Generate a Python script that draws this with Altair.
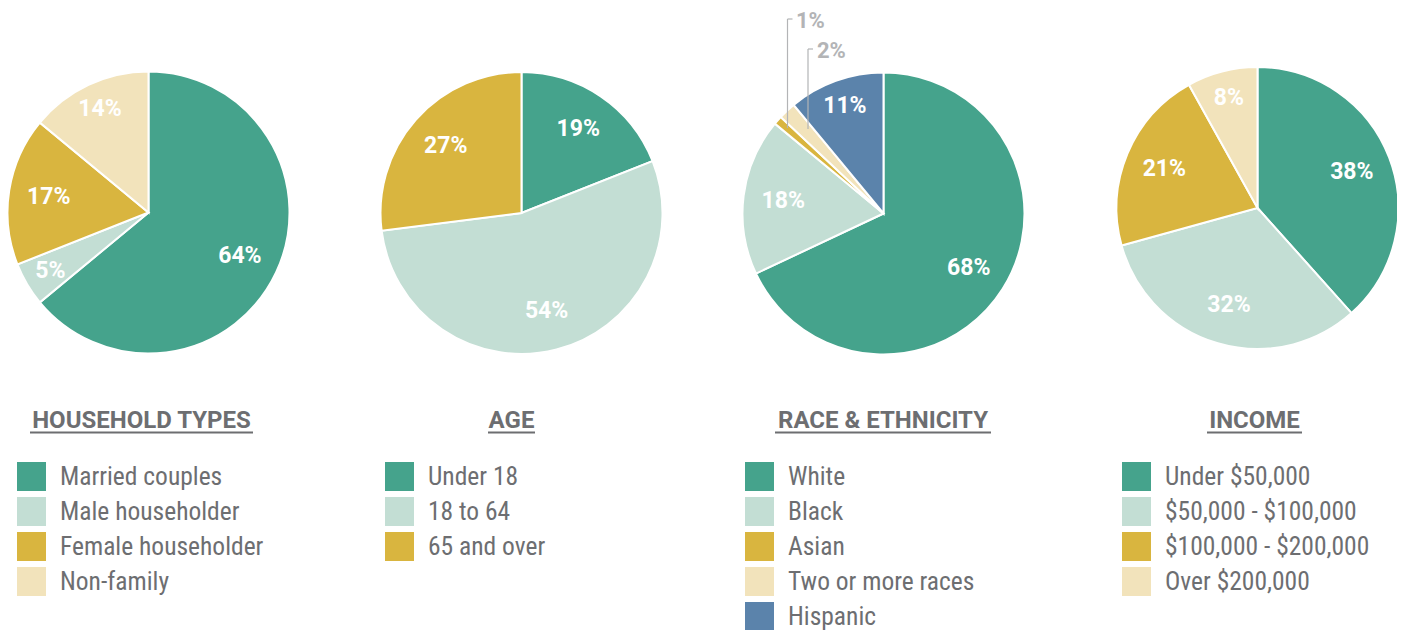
import altair as alt
import pandas as pd

# ---- data ----
palette = ["#45a38c", "#c3ded4", "#d9b53f", "#f2e3bb", "#5b83ab"]

hh_cats = ["Married couples", "Male householder", "Female householder", "Non-family"]
hh_vals = [64, 5, 17, 14]

age_cats = ["Under 18", "18 to 64", "65 and over"]
age_vals = [19, 54, 27]

race_cats = ["White", "Black", "Asian", "Two or more races", "Hispanic"]
race_vals = [68, 18, 1, 2, 11]

inc_cats = ["Under $50,000", "$50,000 - $100,000", "$100,000 - $200,000", "Over $200,000"]
inc_vals = [38, 32, 21, 8]

titles = ["HOUSEHOLD TYPES", "AGE", "RACE & ETHNICITY", "INCOME"]
callouts = ["1%", "2%"]

FONT = "Liberation Sans Narrow, Roboto Condensed, DejaVu Sans Condensed, Roboto, sans-serif"
BOLD_FONT = "Roboto, sans-serif"
GRAY = "#6d6e71"
CALLOUT_GRAY = "#b3b4b6"
R = 141


def pie(cats, vals, cx, cy, lx, ly):
    df = pd.DataFrame({"cat": cats, "v": vals, "i": list(range(len(cats)))})
    base = alt.Chart(df).transform_calculate(
        big="datum.v >= 15 ? datum.v + '%' : ''",
        small="datum.v >= 5 && datum.v < 15 ? datum.v + '%' : ''",
    )
    theta = alt.Theta("v:Q", stack=True)
    arc = base.mark_arc(radius=R, stroke="white", strokeWidth=2).encode(
        theta=theta,
        order=alt.Order("i:Q"),
        color=alt.Color(
            "cat:N",
            scale=alt.Scale(domain=cats, range=palette[: len(cats)]),
            legend=alt.Legend(
                orient="none",
                legendX=lx,
                legendY=ly,
                title=None,
                symbolType="square",
                symbolSize=841,
                symbolStrokeWidth=0,
                symbolOpacity=1,
                labelFont=FONT,
                labelFontSize=25.5,
                labelColor=GRAY,
                labelLimit=400,
                labelOffset=14,
                rowPadding=6,
                padding=0,
            ),
        ),
        x=alt.value(cx),
        y=alt.value(cy),
    )

    def labels(field, rad):
        return base.mark_text(
            font=BOLD_FONT, fontSize=23, fontWeight="bold", color="white",
            align="center", baseline="middle", radius=rad,
        ).encode(
            theta=theta,
            order=alt.Order("i:Q"),
            detail=alt.Detail("cat:N"),
            text=f"{field}:N",
            x=alt.value(cx),
            y=alt.value(cy),
        )

    return alt.layer(arc, labels("big", 101), labels("small", 114))


def title(t, cx, x1, x2):
    df = pd.DataFrame({"t": [t]})
    txt = alt.Chart(df).mark_text(
        font=BOLD_FONT, fontSize=24, fontWeight="bold", color=GRAY,
        align="center", baseline="alphabetic",
    ).encode(text="t:N", x=alt.value(cx), y=alt.value(420))
    ul = alt.Chart(df).mark_rule(color=GRAY, strokeWidth=2).encode(
        x=alt.value(x1), x2=alt.value(x2), y=alt.value(424.5)
    )
    return alt.layer(txt, ul)


def callout(t, tx, ty, lx, ybottom):
    df = pd.DataFrame({"t": [t]})
    txt = alt.Chart(df).mark_text(
        font=BOLD_FONT, fontSize=22, fontWeight="bold", color=CALLOUT_GRAY,
        align="left", baseline="middle",
    ).encode(text="t:N", x=alt.value(tx), y=alt.value(ty + 2))
    v = alt.Chart(df).mark_rule(color=CALLOUT_GRAY, strokeWidth=1.2).encode(
        x=alt.value(lx), y=alt.value(ty), y2=alt.value(ybottom)
    )
    h = alt.Chart(df).mark_rule(color=CALLOUT_GRAY, strokeWidth=1.2).encode(
        x=alt.value(lx), x2=alt.value(lx + 5), y=alt.value(ty)
    )
    return alt.layer(v, h, txt)


p1 = pie(hh_cats, hh_vals, 140.5, 204.5, 9, 454)
p2 = pie(age_cats, age_vals, 513.5, 205, 377, 454)
p3 = pie(race_cats, race_vals, 875.5, 205.5, 737, 454)
p4 = pie(inc_cats, inc_vals, 1249.5, 200, 1114, 454)

t1 = title(titles[0], 133.5, 22, 245)
t2 = title(titles[1], 503.5, 480, 527)
t3 = title(titles[2], 875, 767, 983)
t4 = title(titles[3], 1246.5, 1199, 1294)

c1 = callout(callouts[0], 788, 11, 779.5, 120)
c2 = callout(callouts[1], 809, 41, 800, 121)

chart = (
    alt.layer(p1, p2, p3, p4, t1, t2, t3, t4, c1, c2)
    .resolve_scale(theta="independent", color="independent")
    .properties(width=1389, height=622, padding=0, autosize="none")
    .configure_view(stroke=None)
)

chart.save("out.html", embed_options={"renderer": "svg", "actions": False})
